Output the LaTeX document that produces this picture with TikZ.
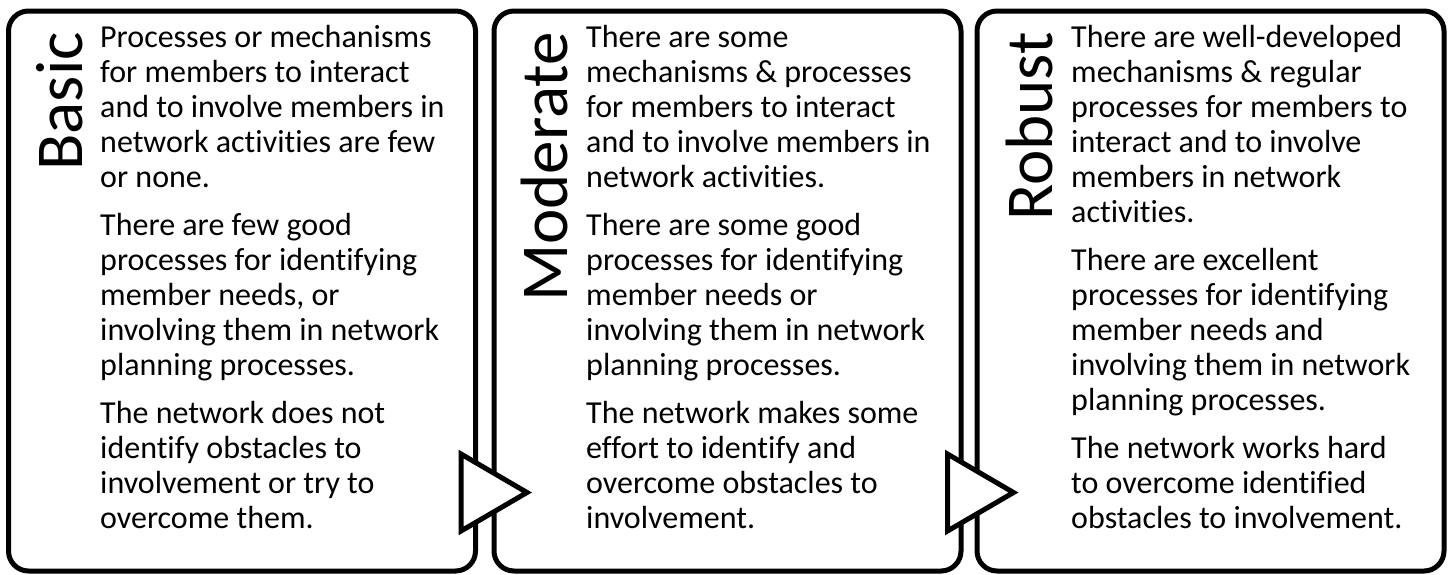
\documentclass[tikz,border=0pt]{standalone}
\usepackage{fontspec}
\setmainfont{Carlito}[Ligatures=CommonOff]

\begin{document}
\begin{tikzpicture}[x=1pt,y=-1pt,
    stage/.style={draw,line width=5pt,rounded corners=20pt,
        minimum width=467pt,minimum height=560pt,inner sep=0pt,outer sep=0pt},
    level/.style={rotate=90,anchor=base east,inner sep=0pt,
        font=\fontsize{67}{67}\selectfont},
    body/.style={anchor=north west,align=left,inner sep=0pt,
        font=\fontsize{32}{35}\selectfont},
    chevron/.style={draw,fill=white,line width=5pt,line join=miter}]
    \useasboundingbox (0,0) rectangle (1453,574);

    % the three stages
    \node[stage] (basic) at (242,291) {};
    \node[stage] (moderate) at (727.5,291) {};
    \node[stage] (robust) at (1210.5,291) {};

    \node[level] (basicT) at (82,32) {Basic};
    \node[level] (moderateT) at (567,32) {Moderate};
    \node[level] (robustT) at (1052,32) {Robust};

    \node[body] (basicX) at (100,25) {Processes or mechanisms\\
        for members to interact\\
        and to involve members in\\
        network activities are few\\
        or none.\\[13pt]
        There are few good\\
        processes for identifying\\
        member needs, or\\
        involving them in network\\
        planning processes.\\[13pt]
        The network does not\\
        identify obstacles to\\
        involvement or try to\\
        overcome them.};
    \node[body] (moderateX) at (586,25) {There are some\\
        mechanisms \& processes\\
        for members to interact\\
        and to involve members in\\
        network activities.\\[13pt]
        There are some good\\
        processes for identifying\\
        member needs or\\
        involving them in network\\
        planning processes.\\[13pt]
        The network makes some\\
        effort to identify and\\
        overcome obstacles to\\
        involvement.};
    \node[body] (robustX) at (1071,25) {There are well-developed\\
        mechanisms \& regular\\
        processes for members to\\
        interact and to involve\\
        members in network\\
        activities.\\[13pt]
        There are excellent\\
        processes for identifying\\
        member needs and\\
        involving them in network\\
        planning processes.\\[13pt]
        The network works hard\\
        to overcome identified\\
        obstacles to involvement.};

    % arrows between stages
    \coordinate (arrow1a) at (461,454);
    \coordinate (arrow1b) at (461,531);
    \coordinate (arrow1c) at (527,492.5);
    \draw[chevron] (arrow1a) -- (arrow1c) -- (arrow1b) -- cycle;

    \coordinate (arrow2a) at (947.5,454);
    \coordinate (arrow2b) at (947.5,531);
    \coordinate (arrow2c) at (1013.5,492.5);
    \draw[chevron] (arrow2a) -- (arrow2c) -- (arrow2b) -- cycle;
\end{tikzpicture}
\end{document}
